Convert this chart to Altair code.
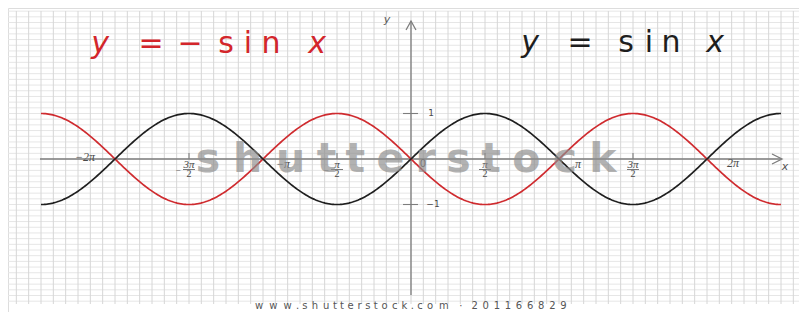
import altair as alt
import pandas as pd

# ---------------- data ----------------
X_START, X_END, X_STEP = -2.5, 2.5, 0.01          # curve extent, in multiples of pi
SERIES_SIGN = [-1, 1]                              # y = -sin x , y = sin x
SERIES_COLORS = ["#cf2b2f", "#1f1f1f"]
HALF_TICKS = [-1.5, -0.5, 0.5, 1.5]
HALF_NUMS = ["3π", "π", "π", "3π"]
WHOLE_TICKS = [-2, -1, 1, 2]
WHOLE_LABELS = ["−2π", "−π", "π", "2π"]
Y_TICKS = [1, -1]
Y_LABELS = ["1", "−1"]
ORIGIN_LABEL = "0"
TITLE_LEFT = ["y", "=", "−", "s", "i", "n", "x"]
TITLE_RIGHT = ["y", "=", "s", "i", "n", "x"]
WATERMARK = "shutterstock"
CREDIT = "www.shutterstock.com · 201166829"

# ---------------- layout (page pixels) ----------------
M = 8
W, H = 791, 304
OX, OY = 411, 159
PI_PX, UNIT_PX = 148.0, 45.5


def dx(px):
    return (px - OX) / PI_PX


def dy(py):
    return (OY - py) / UNIT_PX


XS = alt.Scale(domain=[dx(M), dx(M + W)], nice=False, zero=False)
YS = alt.Scale(domain=[dy(M + H), dy(M)], nice=False, zero=False)


def X(f="x"):
    return alt.X(f + ":Q", scale=XS, axis=None)


def Y(f="y"):
    return alt.Y(f + ":Q", scale=YS, axis=None)


def rules(df, color, width=1.0, **kw):
    enc = {"x": X(), "y": Y()}
    if "x2" in df:
        enc["x2"] = alt.X2("x2")
    if "y2" in df:
        enc["y2"] = alt.Y2("y2")
    return alt.Chart(df).mark_rule(color=color, strokeWidth=width, **kw).encode(**enc)


def texts(df, **kw):
    return alt.Chart(df).mark_text(**kw).encode(x=X(), y=Y(), text="text:N")


# width tables (em) used to spread letter-spaced strings
ADV_BOLD = {"s": .595, "h": .712, "u": .712, "t": .478, "e": .678, "r": .493,
            "o": .687, "c": .593, "k": .665}
ADV = {"w": .818, ".": .318, "s": .521, "h": .634, "u": .634, "t": .392, "e": .615,
       "r": .411, "o": .612, "c": .550, "k": .579, "m": .974, " ": .318, "·": .318}


def spread(text, x0, x1, table):
    w = [table.get(c, .636) for c in text]
    tot = sum(w)
    cum = 0.0
    xs = []
    for a in w:
        xs.append(x0 + (x1 - x0) * (cum + a / 2) / tot)
        cum += a
    return xs


layers = []

# ---- graph paper ----
vg = pd.DataFrame({"x": [k / 12 for k in range(-32, 32)]})
vg["y"], vg["y2"] = dy(11), dy(304)
hg = pd.DataFrame({"y": [k / 8 for k in range(-25, 27)]})
hg["x"], hg["x2"] = dx(M), dx(M + W)
layers += [rules(hg, "#e6e6e6"), rules(vg, "#d6d6d6")]

# ---- axes ----
ax = pd.DataFrame({"x": [dx(40)], "x2": [dx(781)], "y": [0.0]})
ay = pd.DataFrame({"x": [0.0], "y": [dy(295)], "y2": [dy(21)]})
ht = pd.DataFrame({"x": HALF_TICKS, "y": 0.0, "y2": dy(153)})
yt = pd.DataFrame({"y": Y_TICKS, "x": dx(403), "x2": dx(418)})
layers += [rules(ax, "#7d7d7d", 1.3), rules(ay, "#7d7d7d", 1.3),
           rules(ht, "#7d7d7d", 1.1), rules(yt, "#7d7d7d", 1.1)]

arr_y = pd.DataFrame({"x": [0.0], "y": [dy(21)]})
arr_x = pd.DataFrame({"x": [dx(782)], "y": [0.0]})
layers.append(alt.Chart(arr_y).mark_point(shape="M-0.55,1L0,0L0.55,1", size=324, filled=False,
                                          color="#7d7d7d", strokeWidth=1.3, opacity=1)
              .encode(x=X(), y=Y()))
layers.append(alt.Chart(arr_x).mark_point(shape="M-1,-0.5L0,0L-1,0.5", size=400, filled=False,
                                          color="#7d7d7d", strokeWidth=1.3, opacity=1)
              .encode(x=X(), y=Y()))

# ---- tick labels ----
WHOLE_DX = [-30, 20, 19, 26]
WHOLE_PY = [157, 164, 164, 163]
wl = pd.DataFrame({"x": [t + d / PI_PX for t, d in zip(WHOLE_TICKS, WHOLE_DX)],
                   "y": [dy(p) for p in WHOLE_PY], "text": WHOLE_LABELS})
layers.append(texts(wl, font="Liberation Serif", fontStyle="italic", fontSize=12, color="#4a4a4a"))

num = pd.DataFrame({"x": HALF_TICKS, "y": dy(164.5), "text": HALF_NUMS})
den = pd.DataFrame({"x": HALF_TICKS, "y": dy(174), "text": ["2"] * len(HALF_TICKS)})
bar = pd.DataFrame({"x": [t - 6 / PI_PX for t in HALF_TICKS], "x2": [t + 6 / PI_PX for t in HALF_TICKS],
                    "y": dy(169.5)})
neg = pd.DataFrame({"x": [t - 11 / PI_PX for t in HALF_TICKS if t < 0], "y": dy(169.5), "text": "−"})
layers += [texts(num, font="Liberation Serif", fontStyle="italic", fontSize=11, color="#4a4a4a"),
           texts(den, font="Liberation Serif", fontSize=10, color="#4a4a4a"),
           rules(bar, "#6a6a6a", 0.9),
           texts(neg, font="Liberation Serif", fontSize=9, color="#4a4a4a")]

yl = pd.DataFrame({"x": [dx(431), dx(433)], "y": [dy(113), dy(204)], "text": Y_LABELS})
ol = pd.DataFrame({"x": [dx(423)], "y": [dy(164)], "text": [ORIGIN_LABEL]})
layers += [texts(yl, font="DejaVu Sans", fontSize=9, color="#4a4a4a"),
           texts(ol, font="DejaVu Sans", fontSize=10, color="#4a4a4a")]

axn = pd.DataFrame({"x": [dx(387), dx(785)], "y": [dy(20), dy(167)], "text": ["y", "x"]})
layers.append(texts(axn, font="DejaVu Sans", fontStyle="italic", fontSize=11, color="#555555"))

# ---- curves (red under black) ----
seq = alt.sequence(X_START, X_END + X_STEP / 2, X_STEP, as_="t")
for s, c in zip(SERIES_SIGN, SERIES_COLORS):
    layers.append(alt.Chart(seq).transform_calculate(v=f"{s}*sin(PI*datum.t)")
                  .mark_line(color=c, strokeWidth=1.7)
                  .encode(x=X("t"), y=Y("v")))

# ---- titles ----
LEFT_PX = [100, 151, 190, 226, 248, 271, 317]
RIGHT_PX = [530, 580, 626, 649, 671, 715]
ITALIC = {"y", "x"}
for chars, pxs, py, col in [(TITLE_LEFT, LEFT_PX, 53, "#d3262b"), (TITLE_RIGHT, RIGHT_PX, 52, "#1e1e1e")]:
    df = pd.DataFrame({"x": [dx(p) for p in pxs], "y": dy(py), "text": chars})
    it = df[df.text.isin(ITALIC)]
    up = df[~df.text.isin(ITALIC)]
    layers.append(texts(it, font="DejaVu Sans", fontStyle="italic", fontSize=30, color=col,
                        baseline="alphabetic"))
    layers.append(texts(up, font="DejaVu Sans", fontSize=30, color=col, baseline="alphabetic"))

# ---- watermark ----
wm = pd.DataFrame({"x": [dx(p) for p in spread(WATERMARK, 190, 623, ADV_BOLD)],
                   "y": dy(172), "text": list(WATERMARK)})
layers.append(texts(wm, font="DejaVu Sans", fontWeight="bold", fontSize=41, color="#8e8e8e",
                    opacity=0.68, baseline="alphabetic"))
cr = pd.DataFrame({"x": [dx(p) for p in spread(CREDIT, 252, 569, ADV)],
                   "y": dy(309), "text": list(CREDIT)})
layers.append(texts(cr, font="DejaVu Sans", fontSize=10, color="#555555", baseline="alphabetic"))

chart = (alt.layer(*layers)
         .properties(width=W, height=H, padding=0, autosize=alt.AutoSizeParams(type="none"))
         .configure_view(stroke=None)
         .configure(background="white"))

chart.save("out.html", embed_options={"renderer": "svg", "actions": False})
